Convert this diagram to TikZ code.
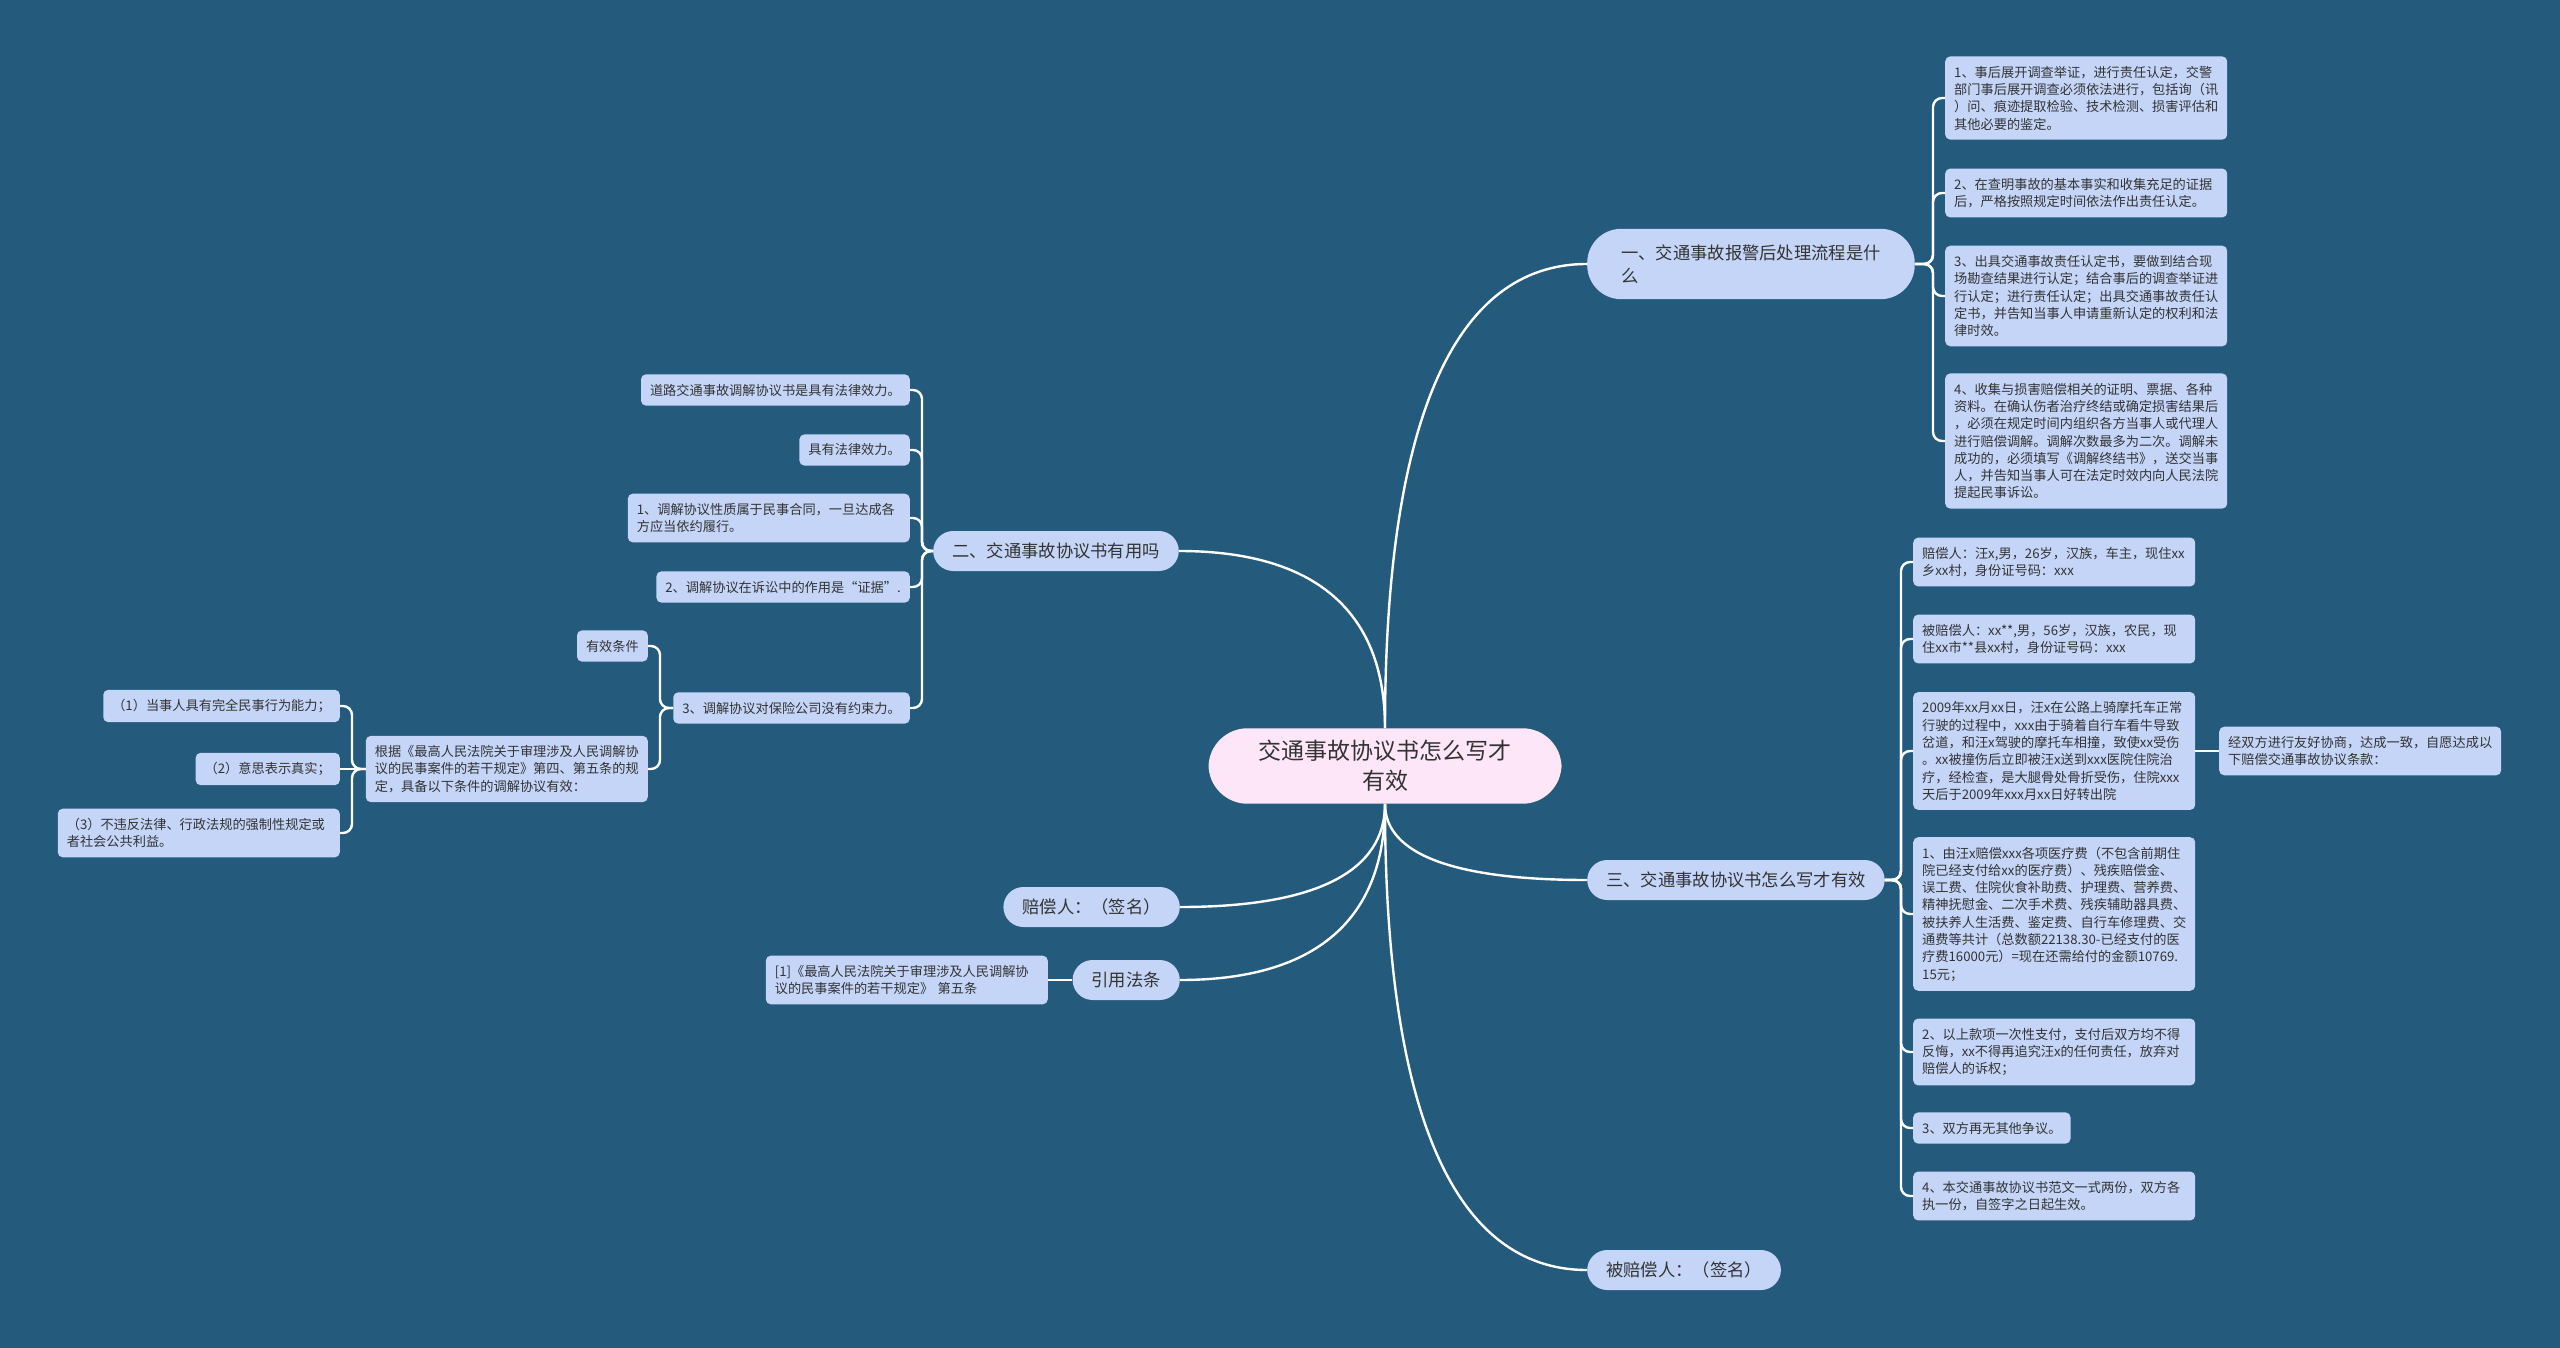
\documentclass[tikz,border=0pt]{standalone}
\usepackage{fontspec}
\newfontfamily\cjk{Noto Sans CJK SC}
\usepackage{xcolor}
\usepackage{tikz}
\usetikzlibrary{calc}
\definecolor{bgblue}{HTML}{245A7C}
\definecolor{leafblue}{HTML}{C4D5F8}
\definecolor{rootpink}{HTML}{FCE6F8}
\definecolor{inkgray}{HTML}{333333}

\begin{document}
\begin{tikzpicture}[x=1pt,y=-1pt,
  rootbox/.style={fill=rootpink,text=inkgray,rounded corners=39pt,align=center,inner xsep=50pt,inner ysep=12pt,font=\cjk\fontsize{23}{30}\selectfont},
  branch/.style={fill=leafblue,text=inkgray,rounded corners=20pt,align=left,inner xsep=19pt,inner ysep=6pt,minimum height=40pt,font=\cjk\fontsize{17.3}{22.5}\selectfont},
  leaf/.style={fill=leafblue,text=inkgray,rounded corners=5pt,align=left,inner xsep=9pt,inner ysep=9.5pt,font=\cjk\fontsize{13.2}{17.3}\selectfont},
  wideleaf/.style={leaf,text width=264pt},
  link/.style={draw=white,line width=2.4pt,rounded corners=9pt},
  rootlink/.style={to path={.. controls ($(\tikztostart)!0.66!(\tikztostart|-\tikztotarget)$) and ($(\tikztotarget)!0.66!(\tikztostart|-\tikztotarget)$) .. (\tikztotarget)}}]
\useasboundingbox (0,0) rectangle (2560,1348);
\fill[bgblue] (0,0) rectangle (2560,1348);

% centre
\node[rootbox] (n0) at (1385,766) {交通事故协议书怎么写才\\有效};

% first level
\node[branch,anchor=west,inner xsep=34pt,inner ysep=16pt,rounded corners=34pt] (b1) at (1587,264) {一、交通事故报警后处理流程是什\\么};
\node[branch,anchor=east] (b2) at (1179,551) {二、交通事故协议书有用吗};
\node[branch,anchor=west] (b3) at (1587,880) {三、交通事故协议书怎么写才有效};
\node[branch,anchor=east] (b4) at (1180,907) {赔偿人：（签名）};
\node[branch,anchor=east] (b5) at (1180,980) {引用法条};
\node[branch,anchor=west] (b6) at (1587,1270) {被赔偿人：（签名）};

% leaves of b1
\node[wideleaf,anchor=west] (l11) at (1945,98) {1、事后展开调查举证，进行责任认定，交警\\部门事后展开调查必须依法进行，包括询（讯\\）问、痕迹提取检验、技术检测、损害评估和\\其他必要的鉴定。};
\node[wideleaf,anchor=west] (l12) at (1945,193) {2、在查明事故的基本事实和收集充足的证据\\后，严格按照规定时间依法作出责任认定。};
\node[wideleaf,anchor=west] (l13) at (1945,296) {3、出具交通事故责任认定书，要做到结合现\\场勘查结果进行认定；结合事后的调查举证进\\行认定；进行责任认定；出具交通事故责任认\\定书，并告知当事人申请重新认定的权利和法\\律时效。};
\node[wideleaf,anchor=west] (l14) at (1945,441) {4、收集与损害赔偿相关的证明、票据、各种\\资料。在确认伤者治疗终结或确定损害结果后\\，必须在规定时间内组织各方当事人或代理人\\进行赔偿调解。调解次数最多为二次。调解未\\成功的，必须填写《调解终结书》，送交当事\\人，并告知当事人可在法定时效内向人民法院\\提起民事诉讼。};

% leaves of b2
\node[leaf,anchor=east] (l21) at (910,390) {道路交通事故调解协议书是具有法律效力。};
\node[leaf,anchor=east] (l22) at (910,450) {具有法律效力。};
\node[wideleaf,anchor=east] (l23) at (910,518) {1、调解协议性质属于民事合同，一旦达成各\\方应当依约履行。};
\node[leaf,anchor=east] (l24) at (910,587) {2、调解协议在诉讼中的作用是“证据”.};
\node[leaf,anchor=east] (l25) at (910,708) {3、调解协议对保险公司没有约束力。};
\node[leaf,anchor=east] (l251) at (648,646) {有效条件};
\node[wideleaf,anchor=east] (l252) at (648,769) {根据《最高人民法院关于审理涉及人民调解协\\议的民事案件的若干规定》第四、第五条的规\\定，具备以下条件的调解协议有效：};
\node[leaf,anchor=east] (c1) at (340,706) {（1）当事人具有完全民事行为能力；};
\node[leaf,anchor=east] (c2) at (340,769) {（2）意思表示真实；};
\node[wideleaf,anchor=east] (c3) at (340,833) {（3）不违反法律、行政法规的强制性规定或\\者社会公共利益。};

% leaves of b3
\node[wideleaf,anchor=west] (l31) at (1913,562) {赔偿人：汪x,男，26岁，汉族，车主，现住xx\\乡xx村，身份证号码：xxx};
\node[wideleaf,anchor=west] (l32) at (1913,639) {被赔偿人：xx**,男，56岁，汉族，农民，现\\住xx市**县xx村，身份证号码：xxx};
\node[wideleaf,anchor=west] (l33) at (1913,751) {2009年xx月xx日，汪x在公路上骑摩托车正常\\行驶的过程中，xxx由于骑着自行车看牛导致\\岔道，和汪x驾驶的摩托车相撞，致使xx受伤\\。xx被撞伤后立即被汪x送到xxx医院住院治\\疗，经检查，是大腿骨处骨折受伤，住院xxx\\天后于2009年xxx月xx日好转出院};
\node[wideleaf,anchor=west] (l331) at (2219,751) {经双方进行友好协商，达成一致，自愿达成以\\下赔偿交通事故协议条款：};
\node[wideleaf,anchor=west] (l34) at (1913,914) {1、由汪x赔偿xxx各项医疗费（不包含前期住\\院已经支付给xx的医疗费）、残疾赔偿金、\\误工费、住院伙食补助费、护理费、营养费、\\精神抚慰金、二次手术费、残疾辅助器具费、\\被扶养人生活费、鉴定费、自行车修理费、交\\通费等共计（总数额22138.30-已经支付的医\\疗费16000元）=现在还需给付的金额10769.\\15元；};
\node[wideleaf,anchor=west] (l35) at (1913,1052) {2、以上款项一次性支付，支付后双方均不得\\反悔，xx不得再追究汪x的任何责任，放弃对\\赔偿人的诉权；};
\node[leaf,anchor=west] (l36) at (1913,1128) {3、双方再无其他争议。};
\node[wideleaf,anchor=west] (l37) at (1913,1196) {4、本交通事故协议书范文一式两份，双方各\\执一份，自签字之日起生效。};

% leaf of b5
\node[wideleaf,anchor=east] (l51) at (1048,980) {[1]《最高人民法院关于审理涉及人民调解协\\议的民事案件的若干规定》 第五条};

% centre to first level
\draw[link] (n0.north) to[rootlink] (b1.west);
\draw[link] (n0.north) to[rootlink] (b2.east);
\draw[link] (n0.south) to[rootlink] (b3.west);
\draw[link] (n0.south) to[rootlink] (b4.east);
\draw[link] (n0.south) to[rootlink] (b5.east);
\draw[link] (n0.south) to[rootlink] (b6.west);

% brackets
\draw[link] (l11.west) -- ++(-12,0) |- (b1.east);
\draw[link] (l12.west) -- ++(-12,0) |- (b1.east);
\draw[link] (l13.west) -- ++(-12,0) |- (b1.east);
\draw[link] (l14.west) -- ++(-12,0) |- (b1.east);
\draw[link] (l21.east) -- ++(12,0) |- (b2.west);
\draw[link] (l22.east) -- ++(12,0) |- (b2.west);
\draw[link] (l23.east) -- ++(12,0) |- (b2.west);
\draw[link] (l24.east) -- ++(12,0) |- (b2.west);
\draw[link] (l25.east) -- ++(12,0) |- (b2.west);
\draw[link] (l251.east) -- ++(12,0) |- (l25.west);
\draw[link] (l252.east) -- ++(12,0) |- (l25.west);
\draw[link] (c1.east) -- ++(12,0) |- (l252.west);
\draw[link] (c2.east) -- (l252.west);
\draw[link] (c3.east) -- ++(12,0) |- (l252.west);
\draw[link] (l31.west) -- ++(-12,0) |- (b3.east);
\draw[link] (l32.west) -- ++(-12,0) |- (b3.east);
\draw[link] (l33.west) -- ++(-12,0) |- (b3.east);
\draw[link] (l34.west) -- ++(-12,0) |- (b3.east);
\draw[link] (l35.west) -- ++(-12,0) |- (b3.east);
\draw[link] (l36.west) -- ++(-12,0) |- (b3.east);
\draw[link] (l37.west) -- ++(-12,0) |- (b3.east);
\draw[link] (l33.east) -- (l331.west);
\draw[link] (l51.east) -- (b5.west);
\end{tikzpicture}
\end{document}
